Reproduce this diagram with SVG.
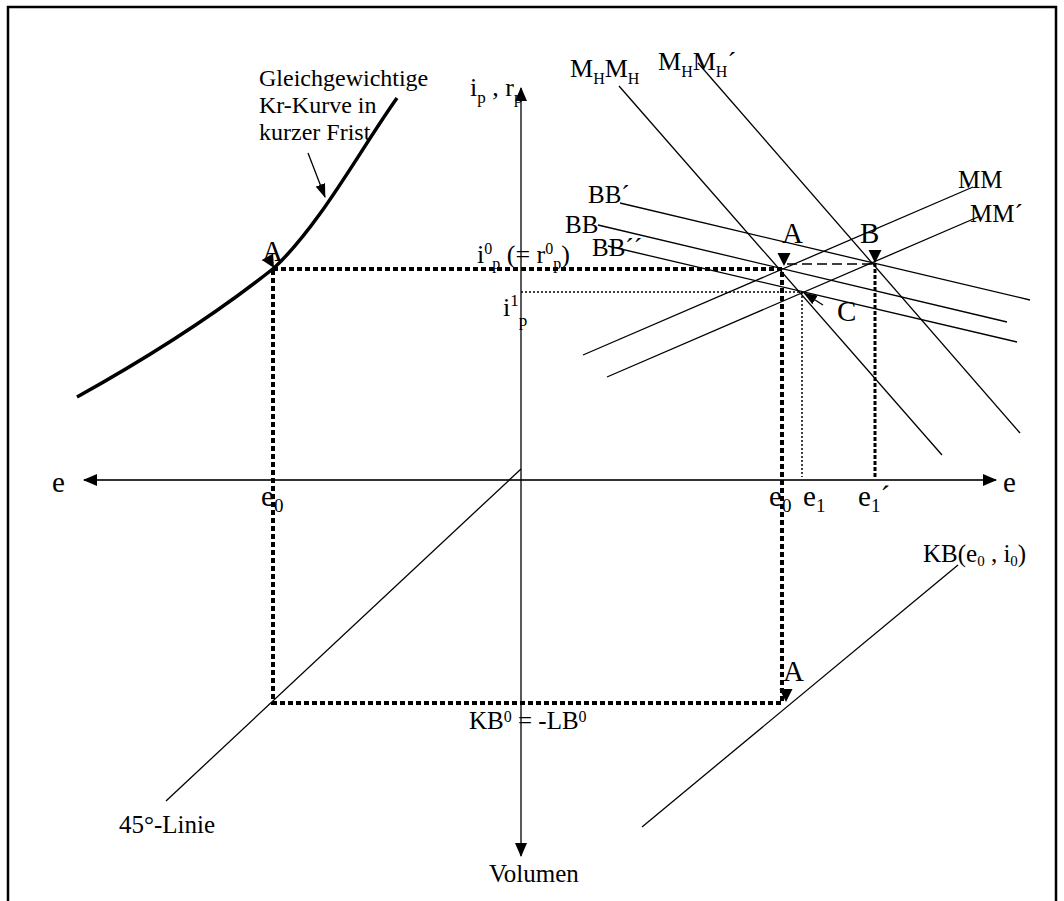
<svg xmlns="http://www.w3.org/2000/svg" width="1064" height="901" viewBox="0 0 1064 901">
<style>
text{font-family:"Liberation Serif","Times New Roman",serif;fill:#000}
.t{font-size:25px}
.big{font-size:29px}
.ln{stroke:#000;stroke-width:1.3;fill:none}
.thick{stroke:#000;stroke-width:4;stroke-dasharray:5 3;fill:none}
.mid{stroke:#000;stroke-width:3;stroke-dasharray:4 2;fill:none}
.thin{stroke:#000;stroke-width:1.5;stroke-dasharray:2 2;fill:none}
.dash{stroke:#000;stroke-width:1.3;stroke-dasharray:10 5;fill:none}
</style>
<defs>
<marker id="ah" viewBox="0 0 14 12" refX="13" refY="6" markerWidth="14" markerHeight="12" orient="auto-start-reverse" markerUnits="userSpaceOnUse"><path d="M0,0 L14,6 L0,12 z" fill="#000"/></marker>
<marker id="ah2" viewBox="0 0 14 10" refX="13" refY="5" markerWidth="14" markerHeight="10" orient="auto" markerUnits="userSpaceOnUse"><path d="M0,0 L14,5 L0,10 z" fill="#000"/></marker>
<path id="tri" d="M-6.5,-13 L6.5,-13 L0,0 z" fill="#000"/>
</defs>
<rect x="8" y="7" width="1048" height="900" fill="#fff" stroke="#000" stroke-width="2.5"/>

<g id="labels">
<text class="t" x="259" y="86" style="font-size:24px">Gleichgewichtige</text>
<text class="t" x="259" y="113" style="font-size:24px">Kr-Kurve in</text>
<text class="t" x="259" y="140" style="font-size:24px">kurzer Frist</text>
<text class="t" x="470" y="96" style="font-size:26px">i<tspan font-size="17" dy="7">p</tspan><tspan dy="-7"> , r</tspan><tspan font-size="17" dy="7">p</tspan></text>
<text class="t" x="570" y="77" style="font-size:26px">M<tspan font-size="16" dy="7">H</tspan><tspan dy="-7">M</tspan><tspan font-size="16" dy="7">H</tspan></text>
<text class="t" x="658" y="70" style="font-size:26px">M<tspan font-size="16" dy="7">H</tspan><tspan dy="-7">M</tspan><tspan font-size="16" dy="7">H</tspan><tspan dy="-7">´</tspan></text>
<text class="t" x="958" y="188">MM</text>
<text class="t" x="970" y="222">MM´</text>
<text class="t" x="588" y="203">BB´</text>
<text class="t" x="565" y="233">BB</text>
<text class="t" x="592" y="256">BB´´</text>
<text class="t" x="477" y="263" style="font-size:26px">i<tspan font-size="16" dy="-9">0</tspan><tspan font-size="16" dy="15">p</tspan><tspan dy="-6"> (= r</tspan><tspan font-size="16" dy="-9">0</tspan><tspan font-size="16" dy="15">p</tspan><tspan dy="-6">)</tspan></text>
<text class="t" x="503" y="316" style="font-size:26px">i<tspan font-size="17" dy="-10">1</tspan><tspan font-size="17" dy="20">p</tspan></text>
<text class="big" x="262" y="261">A</text>
<text class="big" x="782" y="243">A</text>
<text class="big" x="860" y="243">B</text>
<text class="big" x="837" y="321">C</text>
<text class="big" x="783" y="681">A</text>
<text class="big" x="52" y="492">e</text>
<text class="big" x="1003" y="492">e</text>
<text class="big" x="261" y="506">e<tspan font-size="19" dy="6">0</tspan></text>
<text class="big" x="769" y="506">e<tspan font-size="19" dy="6">0</tspan></text>
<text class="big" x="803" y="506">e<tspan font-size="19" dy="6">1</tspan></text>
<text class="big" x="858" y="506">e<tspan font-size="19" dy="6">1</tspan><tspan dy="-6">´</tspan></text>
<text class="t" x="923" y="562">KB(e<tspan font-size="15" dy="4">0</tspan><tspan dy="-4"> , i</tspan><tspan font-size="15" dy="4">0</tspan><tspan dy="-4">)</tspan></text>
<text class="t" x="469" y="729">KB<tspan font-size="16" dy="-7">0</tspan><tspan dy="7"> = -LB</tspan><tspan font-size="16" dy="-7">0</tspan></text>
<text class="t" x="119" y="833">45°-Linie</text>
<text class="t" x="489" y="882">Volumen</text>
</g>

<g id="connectors">
<path id="kr-curve" d="M77,397 C140,362 215,315 274,268 C320,225 360,150 397,98" stroke="#000" stroke-width="3.5" fill="none"/>
<line class="ln" x1="308" y1="153" x2="325" y2="197" marker-end="url(#ah2)"/>
<line id="axis-e" x1="84" y1="480" x2="996" y2="480" stroke="#333" stroke-width="2" marker-start="url(#ah)" marker-end="url(#ah)"/>
<line id="axis-v" x1="521" y1="856" x2="521" y2="88" stroke="#000" stroke-width="1.3" marker-start="url(#ah)" marker-end="url(#ah)"/>
<line id="mhmh" class="ln" x1="619" y1="86" x2="942" y2="455"/>
<line id="mhmh2" class="ln" x1="698" y1="63" x2="1020" y2="433"/>
<line id="bb1" class="ln" x1="620" y1="203" x2="1030" y2="300"/>
<line id="bb" class="ln" x1="598" y1="225" x2="1007" y2="322"/>
<line id="bb2" class="ln" x1="608" y1="246" x2="1017" y2="342"/>
<line id="mm" class="ln" x1="973" y1="187" x2="583" y2="355"/>
<line id="mm1" class="ln" x1="978" y1="217" x2="607" y2="377"/>
<line id="kb" class="ln" x1="958" y1="565" x2="642" y2="827"/>
<line id="l45" class="ln" x1="166" y1="801" x2="521" y2="469"/>
<path class="thick" d="M273,269 H782 V703 H273 Z"/>
<line class="mid" x1="875" y1="263" x2="875" y2="477"/>
<line class="thin" x1="521" y1="292" x2="802" y2="292"/>
<line class="thin" x1="802" y1="292" x2="802" y2="477"/>
<line class="dash" x1="787" y1="264" x2="873" y2="264"/>
<line class="ln" x1="823" y1="305" x2="804" y2="293" marker-end="url(#ah2)"/>
<use href="#tri" transform="translate(274,268) rotate(-30)"/>
<use href="#tri" transform="translate(784,266)"/>
<use href="#tri" transform="translate(875,263)"/>
<use href="#tri" transform="translate(786,702)"/>
</g>
</svg>
